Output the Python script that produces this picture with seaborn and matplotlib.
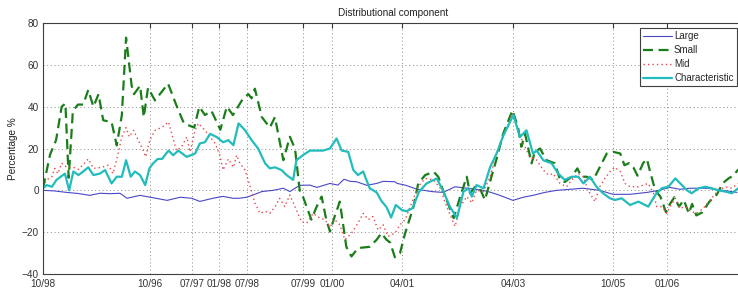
import matplotlib
matplotlib.use("Agg")
import matplotlib.pyplot as plt
import seaborn as sns
import pandas as pd

# ---- data (month index, value in %) ----
large_m = [0, 2.5, 5.1, 7.5, 10, 12.2, 14.5, 16.5, 18, 20.8, 23, 26.6, 29.4, 31.9, 33.6, 36.4, 38.6, 40.7, 42,
           43.7, 46.9, 49.3, 51.5, 52.9, 55, 57.2, 58.7, 61.5, 63.2, 64.5, 65.8, 67.2, 69.4, 71.5, 72.9, 75.4,
           75.9, 77.6, 80.2, 83.3, 85.7, 88.3, 90.9, 94.3, 96, 97.9, 100.7, 102.9, 105, 107.5, 110.1, 113,
           115.7, 119.3, 122.1, 125.8, 129.4, 132, 134.3, 136.5, 138.6, 142.3, 145.7, 148.7]
large_v = [0, -0.3, -1, -1.5, -2.4, -1.4, -1.6, -1.4, -3.8, -2.4, -3.3, -4.8, -3.3, -3.8, -5.3, -3.8, -2.9, -3.8,
           -3.8, -3.3, -0.6, 0, 1, -0.6, 2.4, 2.5, 1.4, 3.3, 2.5, 5.3, 4.3, 4.1, 2.4, 3.3, 4.3, 4.1, 3.3, 2.5,
           0.5, -0.6, -1, 1.7, 1, 0, -1, -2.4, -4.8, -3.3, -2.4, -1, 0, 0.5, 1, 0, -1.9, -1.9, -1, 0, 1.4,
           0.5, 1, 1, 0, -1]

small_m = [0, 1.5, 2.8, 4, 4.8, 5.5, 6.4, 7.5, 8.6, 9.7, 10.8, 11.9, 12.9, 14.7, 15.8, 16.9, 17.8, 19, 19.5,
           20.8, 21.6, 22.5, 24, 26.8, 28.7, 30.2, 32.4, 33.5, 34.7, 36.1, 38, 39.4, 40.7, 42.9, 44, 44.7,
           45.4, 46.9, 48.6, 49.7, 51.5, 52.9, 54, 55, 55.7, 57.5, 58.6, 59.7, 60.7, 61.5, 62.5, 63.6, 65,
           66.1, 67.5, 70, 71.5, 72.5, 73.6, 74.4, 75.4, 76.5, 77.6, 79.4, 80.4, 81.9, 83.7, 84.7, 86.2, 88,
           89.4, 90.8, 91.5, 92.6, 93.6, 94.7, 96.1, 97.2, 98.6, 100.6, 101.8, 102.5, 103.3, 104.7, 105.4,
           106.5, 107.9, 109.7, 110.8, 111.8, 113.3, 114.5, 115.4, 116.5, 117.9, 119.3, 120.8, 122.2, 123.7,
           124.6, 125.6, 126.5, 127.4, 128.6, 129.4, 130.2, 131.2, 132.3, 133.5, 134.2, 135.3, 136.3, 137.3,
           138.4, 139.1, 140.0, 141.3, 142.8, 144.4, 145.6, 146.9, 147.9, 149]
small_v = [1, 17, 24, 40, 41.5, 6, 38, 41, 41, 48, 40, 46, 33.5, 32.6, 21.5, 36, 73, 50, 46, 50, 35, 49, 43,
           51, 40, 32, 30, 40, 36, 38, 29, 40, 36, 44, 46, 44, 48.6, 35, 30, 35, 14.4, 25.6, 20, 0, -3, -14,
           -8, -3, -14, -19.7, -12.5, -5.4, -27, -31.6, -27.6, -27, -23.6, -20.5, -23.6, -25, -32, -30, -20.5,
           -7.8, 3.3, 7.3, 8.9, 6.5, -3, -13.3, -3, 6.5, -1.4, 1.7, 1, -4.6, 6.5, 15, 27, 38.3, 30, 20.8, 27,
           12.9, 18.4, 20, 14.4, 12.9, 5, 4, 6.5, 10.5, 6.5, 6.5, 5, 11, 17.6, 18.4, 17.6, 12, 13, 11, 7, 13,
           15, 8, 0, -3, -10.5, -7, -3.3, -7.8, -4.6, -11, -6.5, -12, -10.5, -5.4, -2, 3.3, 5.7, 7, 10]

mid_m = [0, 0.8, 1.9, 2.5, 3.2, 4, 5.1, 6.5, 7.6, 9.7, 10.8, 12.6, 14, 15, 16.1, 16.9, 17.8, 18.5, 19.4, 20.4,
         21.5, 22, 22.9, 24, 25.4, 26.9, 27.6, 28.6, 29.7, 30.8, 31.5, 32.6, 33.3, 34.7, 35.8, 36.9, 37.9,
         38.6, 39.7, 40.8, 41.5, 42.2, 43.3, 44.4, 45.4, 46.5, 47.6, 48.6, 49.7, 50.7, 51.8, 52.9, 54, 55.4,
         56.5, 57.9, 59.3, 60.4, 61.5, 62.5, 63.6, 64.7, 66.1, 67.5, 68.6, 69.7, 70.7, 71.8, 72.9, 73.9, 75.4,
         76.5, 77.6, 79, 80.4, 81.9, 83.7, 85.1, 86.5, 88.3, 89.4, 90.8, 91.9, 92.9, 94.4, 95.8, 97.2, 98.6,
         100.6, 101.8, 102.9, 104.3, 105.8, 107.2, 108.3, 109.3, 110.8, 112.2, 113.3, 114.7, 115.8, 116.8,
         118.3, 119.3, 120.4, 121.5, 122.5, 123.7, 124.7, 125.8, 127.6, 129.7, 130.8, 131.5, 132.6, 133.7,
         134.4, 135.5, 136.5, 137.6, 138.7, 140.1, 141.5, 143.3, 144.7, 146.2, 147.6, 149]
mid_v = [1.7, 5, 6.5, 10.5, 8, 13, 11, 11, 10, 15, 10.5, 11, 12, 8, 17.6, 25.6, 30, 25.6, 28.7, 24, 19, 16, 24,
         28.7, 30, 32.7, 27, 19, 20.8, 25.5, 18.4, 28.7, 32, 28.7, 25.5, 22.4, 16.8, 9.7, 15, 11, 16.8, 12.9,
         9.7, 1.7, -6, -11, -10, -11, -8, -3.8, -7.8, -2.2, -7.8, -15, -15.7, -11, -13.3, -14, -17.6, -14,
         -16.5, -23.6, -20.5, -15.7, -11, -14, -12.5, -19, -16.5, -22, -20.5, -16.5, -14, -6, 1.7, 5.7, 5, 1,
         -7.8, -17.3, -7.8, -3, -6, 0, -0.6, 6.5, 17.6, 25.5, 36.7, 28.7, 22.4, 16, 14.4, 9.7, 7.3, 8, 3.3,
         1.7, 5, 8, 6.5, 0, -5.4, 1.7, 5.7, 9, 11, 9, 3.3, 1.7, 1.7, 3.3, -1.4, -7.8, -7.8, -11, -7.8, -3.8,
         -8.6, -7.8, -10, -11, -8.6, -3.8, 0, 1.7, 1, 3.3]

char_m = [0, 0.8, 1.9, 2.9, 4.7, 5.6, 6.5, 7.6, 8.6, 9.7, 10.8, 12.2, 13.3, 14.7, 15.8, 16.9, 17.8, 18.8, 19.7,
          20.8, 21.9, 22.8, 23.6, 24.6, 25.5, 26.9, 27.9, 29, 30.8, 32.6, 33.6, 34.7, 35.8, 37.2, 38.6, 39.7,
          40.8, 41.9, 43.3, 44.7, 46.1, 47.6, 48.6, 49.7, 51.1, 52.2, 53.6, 54.3, 55.7, 57.2, 60, 61.5, 62.9,
          64, 65.4, 66.5, 67.5, 68.6, 70, 71.5, 72.5, 73.6, 74.6, 75.6, 76.9, 77.9, 79.2, 80.6, 82.2, 84.4,
          85.8, 87.2, 88.7, 90.1, 91.2, 91.9, 92.9, 94.4, 95.8, 97.2, 98.6, 100.8, 102.2, 103.6, 105, 105.8,
          107.2, 109, 110.4, 111.8, 113.3, 114.7, 115.8, 117.2, 118.6, 120, 121.5, 122.6, 124, 125.8, 127.6,
          129.7, 131.2, 132.6, 134, 135.5, 136.9, 138, 139, 140.5, 141.9, 143.3, 144.7, 146.2, 147.6, 149]
char_v = [1, 2.5, 1.7, 5, 8, 0, 9, 7.3, 9, 11, 7.3, 8, 9.7, 3.3, 6.5, 6.5, 14.4, 6.5, 9, 7.3, 2.5, 10.5, 12.9,
          15, 15, 19, 16.8, 19, 16, 17.6, 22.4, 23, 27, 25.5, 23, 24, 21.6, 32, 28.7, 24, 20, 12.9, 10.5, 11,
          9.7, 7.3, 5, 14.4, 16.8, 19, 19, 20, 24.8, 19, 18.4, 9.7, 7.3, 9, 1, -1, -5, -8, -13, -7, -9.4, -10,
          -8.5, -0.6, 3.3, 5.7, -0.6, -7.8, -13.3, -0.6, 1, -3, 2.5, 1, 11, 17.6, 26, 36, 25.5, 28.7, 17.6, 19,
          14.4, 12.9, 8, 5, 6.5, 6.5, 3.3, 6.5, 1.7, -1.4, -3.8, -4.6, -3.8, -7, -5.4, -7.8, -2.2, 1, 1.7, 5.7,
          2.5, 0, -1.4, 1, 1.7, 1, 0, -0.6, -1.4, 1]

tick_pos = [0, 22.9, 31.9, 37.7, 43.8, 55.7, 61.9, 76.9, 100.7, 122.1, 133.7]
tick_labels = ['10/98', '10/96', '07/97', '01/98', '07/98', '07/99', '01/00', '04/01', '04/03', '10/05', '01/06']

# ---- plot ----
sns.set_style("white")
plt.rcParams['font.family'] = ['Liberation Sans', 'DejaVu Sans']

fig = plt.figure(figsize=(7.38, 2.94), dpi=100)
ax = fig.add_axes([43 / 738, 1 - 274 / 294, 700 / 738, 251 / 294])

series = [
    ("Large", large_m, large_v, dict(color="#4a46c8", lw=0.8)),
    ("Small", small_m, small_v, dict(color="#1a7d1a", lw=1.6, dashes=(4.5, 2.5))),
    ("Mid", mid_m, mid_v, dict(color="#e8484c", lw=1.0, dashes=(1, 2.2))),
    ("Characteristic", char_m, char_v, dict(color="#22bcbc", lw=1.6)),
]
for name, m, v, st in series:
    df = pd.DataFrame({"month": m, "value": v})
    sns.lineplot(data=df, x="month", y="value", ax=ax, sort=False, estimator=None,
                 label=name, color=st["color"], linewidth=st["lw"])
    if "dashes" in st:
        ax.lines[-1].set_dashes(st["dashes"])

ax.set_xlim(0, 150)
ax.set_ylim(-40, 80)
ax.set_yticks([-40, -20, 0, 20, 40, 60, 80])
ax.set_xticks(tick_pos)
ax.set_xticklabels(tick_labels)
ax.set_xlabel("")
ax.set_ylabel("Percentage %", fontsize=7.2, color="#222222", labelpad=3)
ax.set_title("Distributional component", fontsize=7.2, color="#222222", pad=5)

ax.grid(True, color="#8a8a8a", linestyle=(0, (1, 2.8)), linewidth=0.7)
ax.tick_params(direction="in", length=3.5, width=0.8, top=True, right=False, labelsize=7.2,
               colors="#333333")
ax.tick_params(axis="x", pad=3.5)
ax.tick_params(axis="y", pad=3)
for s in ["left", "bottom", "top"]:
    ax.spines[s].set_color("#404040")
    ax.spines[s].set_linewidth(0.8)
ax.spines["right"].set_visible(False)

leg = ax.legend(loc="upper left", bbox_to_anchor=(640 / 738, 1 - 28 / 294), bbox_transform=fig.transFigure,
                fontsize=7.0, frameon=True, fancybox=False, framealpha=1, edgecolor="#404040",
                handlelength=2.9, handletextpad=0.25, labelspacing=0.4, borderpad=0.35, borderaxespad=0)
leg.get_frame().set_linewidth(0.8)

fig.savefig("out.png", dpi=100)
